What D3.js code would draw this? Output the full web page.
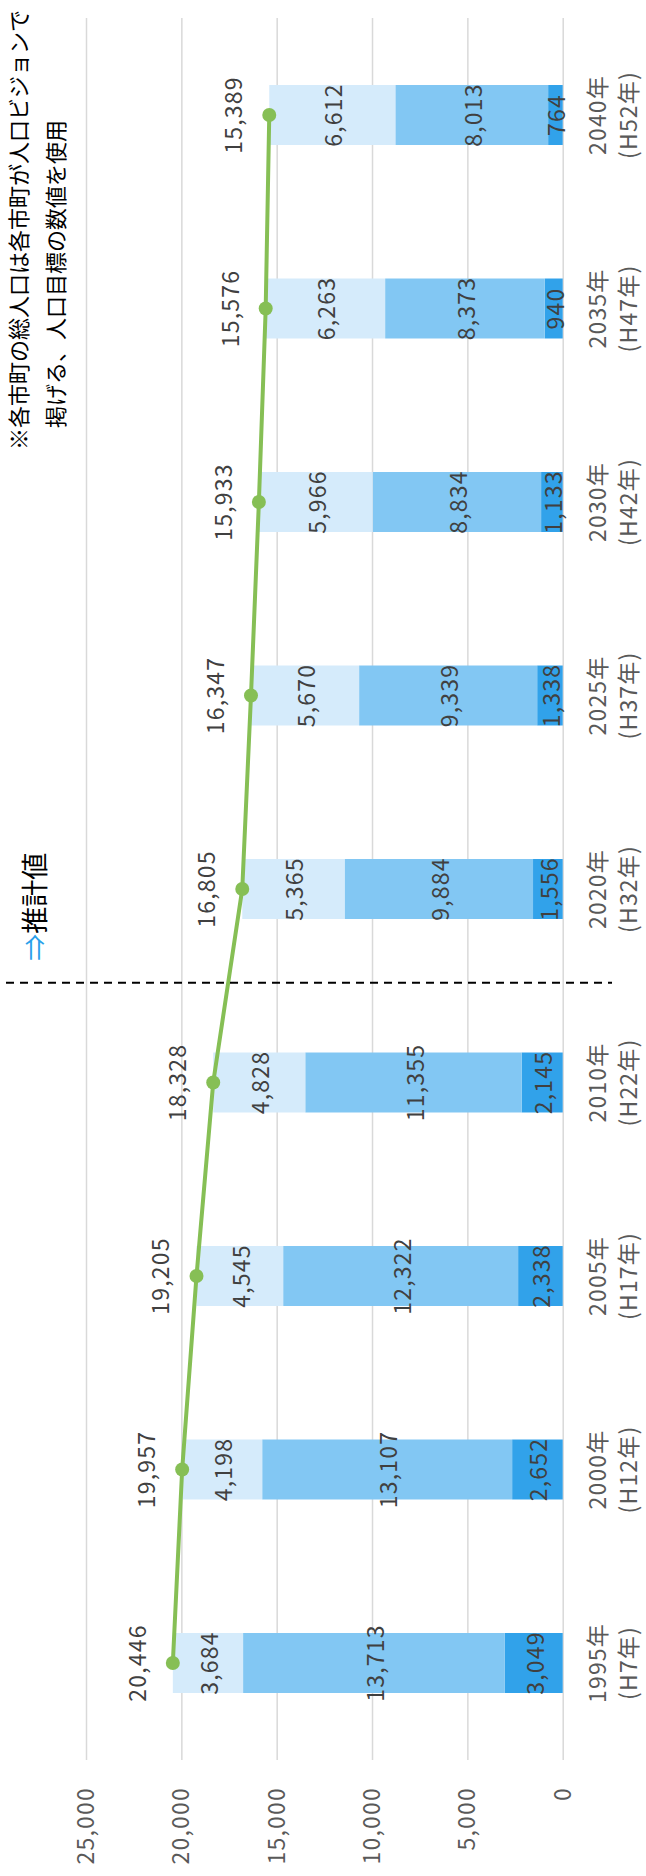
<!DOCTYPE html>
<html>
<head>
<meta charset="utf-8">
<script src="https://cdn.jsdelivr.net/npm/d3@7"></script>
<style>
  html, body { margin: 0; padding: 0; background: #fff; }
  svg { display: block; }
</style>
</head>
<body>
<svg id="chart"></svg>
<script>
// data
var years = ["1995", "2000", "2005", "2010", "2020", "2025", "2030", "2035", "2040"];
var heisei = ["H7", "H12", "H17", "H22", "H32", "H37", "H42", "H47", "H52"];
var young = [3049, 2652, 2338, 2145, 1556, 1338, 1133, 940, 764];
var working = [13713, 13107, 12322, 11355, 9884, 9339, 8834, 8373, 8013];
var elderly = [3684, 4198, 4545, 4828, 5365, 5670, 5966, 6263, 6612];
var totals = [20446, 19957, 19205, 18328, 16805, 16347, 15933, 15576, 15389];
var yTicks = [0, 5000, 10000, 15000, 20000, 25000];
var noteLines = ["※各市町の総人口は各市町が人口ビジョンで", "掲げる、人口目標の数値を使用"];

var keys = ["young", "working", "elderly"];
var colors = { young: "#31a2ea", working: "#82c7f3", elderly: "#d5ebfb" };

var rows = years.map(function(y, i) {
    return { year: y, young: young[i], working: working[i], elderly: elderly[i], total: totals[i] };
});

const imgW = 646;
const imgH = 1876;
// the chart is drawn in its reading frame (1876 wide, 646 tall) and turned -90deg
const font = "'Noto Sans CJK JP', 'Noto Sans', sans-serif";

var svg = d3.select("#chart")
    .attr("width", imgW)
    .attr("height", imgH)
    .attr("viewBox", [0, 0, imgW, imgH]);

var g = svg.append("g")
    .attr("transform", "translate(0," + imgH + ") rotate(-90)")
    .style("font-family", font);

const x = d3.scaleBand(years, [116.25, 1857.75]).paddingInner(0.69).paddingOuter(0.345);
const y = d3.scaleLinear([0, 25000], [562.7, 86]);

// grid + value axis
g.append("g")
    .attr("transform", "translate(116,0)")
    .call(d3.axisLeft(y).tickValues(yTicks).tickSize(-(1858 - 116)).tickPadding(27).tickFormat(d3.format(",")))
    .call(function(a) { a.select(".domain").remove(); })
    .call(function(a) {
        a.selectAll(".tick line").attr("stroke", "#d9d9d9").attr("stroke-width", 1.5);
        a.selectAll(".tick text").attr("fill", "#595959").style("font-size", "23px")
            .style("font-family", font).style("letter-spacing", "1.2px");
    });

// stacked bars
var series = d3.stack().keys(keys)(rows);
var layer = g.selectAll(".layer").data(series).enter().append("g")
    .attr("fill", function(d) { return colors[d.key]; });
layer.selectAll("rect").data(function(d) { return d; }).enter().append("rect")
    .attr("x", function(d) { return x(d.data.year); })
    .attr("y", function(d) { return y(d[1]); })
    .attr("width", x.bandwidth())
    .attr("height", function(d) { return y(d[0]) - y(d[1]); });

// segment labels
series.forEach(function(s) {
    g.selectAll(null).data(s).enter().append("text")
        .attr("x", function(d) { return x(d.data.year) + x.bandwidth() / 2; })
        .attr("y", function(d) { return (y(d[0]) + y(d[1])) / 2; })
        .attr("text-anchor", "middle")
        .attr("dominant-baseline", "central")
        .attr("fill", "#404040")
        .style("font-size", "23px")
        .style("letter-spacing", "1.2px")
        .text(function(d) { return d3.format(",")(d.data[s.key]); });
});

// total line
var line = d3.line()
    .x(function(d) { return x(d.year) + x.bandwidth() / 2; })
    .y(function(d) { return y(d.total); });

g.append("path")
    .datum(rows)
    .attr("fill", "none")
    .attr("stroke", "#86bf55")
    .attr("stroke-width", 4)
    .attr("d", line);

g.selectAll(".dot").data(rows).enter().append("circle")
    .attr("cx", function(d) { return x(d.year) + x.bandwidth() / 2; })
    .attr("cy", function(d) { return y(d.total); })
    .attr("r", 7)
    .attr("fill", "#86bf55");

g.selectAll(".total").data(rows).enter().append("text")
    .attr("x", function(d) { return x(d.year) + x.bandwidth() / 2; })
    .attr("y", function(d) { return y(d.total) - 27; })
    .attr("text-anchor", "middle")
    .attr("fill", "#404040")
    .style("font-size", "23px")
    .style("letter-spacing", "1.2px")
    .text(function(d) { return d3.format(",")(d.total); });

// category labels, two lines
var cat = g.selectAll(".cat").data(years).enter().append("text")
    .attr("text-anchor", "middle")
    .attr("fill", "#595959")
    .style("font-size", "23px")
    .style("letter-spacing", "1.2px");
cat.append("tspan")
    .attr("x", function(d) { return x(d) + x.bandwidth() / 2; })
    .attr("y", 606)
    .text(function(d) { return d + "年"; });
cat.append("tspan")
    .attr("x", function(d) { return x(d) + x.bandwidth() / 2; })
    .attr("y", 637)
    .text(function(d, i) { return "(" + heisei[i] + "年)"; });

// dashed divider between actual and projected
var divX = (x("2010") + x("2020")) / 2 + x.bandwidth() / 2 + 3;
g.append("line")
    .attr("x1", divX).attr("x2", divX)
    .attr("y1", 6).attr("y2", 612)
    .attr("stroke", "#000")
    .attr("stroke-width", 2)
    .attr("stroke-dasharray", "8,6");

var est = g.append("text")
    .attr("x", divX + 22)
    .attr("y", 45)
    .style("font-size", "27px");
est.append("tspan").attr("fill", "#2a9fea").text("⇒");
est.append("tspan").attr("fill", "#000").text("推計値");

// note at the top right
g.append("text")
    .attr("x", 1426).attr("y", 27)
    .attr("fill", "#000")
    .style("font-size", "22px")
    .text(noteLines[0]);
g.append("text")
    .attr("x", 1448).attr("y", 64)
    .attr("fill", "#000")
    .style("font-size", "22px")
    .text(noteLines[1]);
</script>
</body>
</html>
